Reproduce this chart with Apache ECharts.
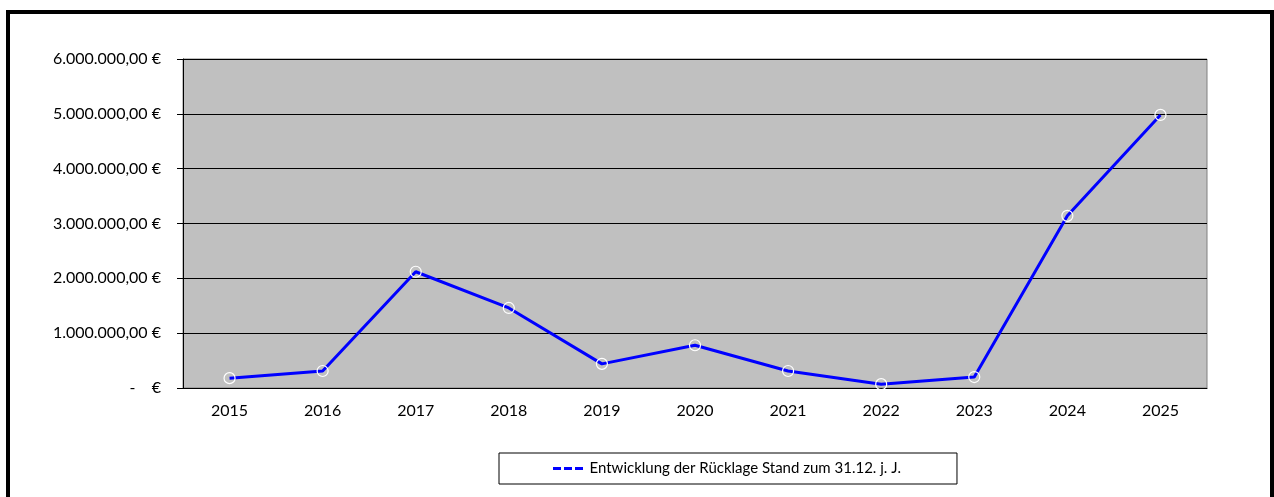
<!DOCTYPE html>
<html>
<head>
<meta charset="utf-8">
<script src="https://cdn.jsdelivr.net/npm/echarts@6/dist/echarts.min.js"></script>
<style>
  html, body { margin: 0; padding: 0; background: #fff; overflow: hidden; }
  #frame {
    position: absolute; left: 6px; top: 10px; width: 1260px; height: 500px;
    border: 4px solid #000; box-sizing: content-box;
  }
  #chart { position: absolute; left: 0; top: 0; width: 1274px; height: 497px; }
</style>
</head>
<body>
<div id="frame"></div>
<div id="chart"></div>
<script>
// Jahre
const years = ['2015', '2016', '2017', '2018', '2019', '2020', '2021', '2022', '2023', '2024', '2025']
// Rücklage Stand zum 31.12. (EUR)
const reserve = [180000, 310000, 2120000, 1460000, 440000, 780000, 310000, 70000, 200000, 3140000, 4980000]
const seriesName = 'Entwicklung der Rücklage Stand zum 31.12. j. J.'

const font = 'Lato'

function euro(v) {
  if (v === 0) return '-    €'
  const s = Math.round(v).toString().replace(/\B(?=(\d{3})+(?!\d))/g, '.')
  return s + ',00 €'
}

const chart = echarts.init(document.getElementById('chart'))
const option = {
  animation: false,
  textStyle: { fontFamily: font },
  grid: {
    left: 183, right: 67, top: 59, bottom: 109,
    show: true, backgroundColor: '#c0c0c0', borderColor: '#808080', borderWidth: 1
  },
  legend: {
    left: 499, top: 453,
    padding: [8, 56, 8, 54],
    borderColor: '#000', borderWidth: 1,
    icon: 'path://M0,0h8v3h-8z M11,0h8v3h-8z M22,0h8v3h-8z',
    itemWidth: 33, itemHeight: 3, itemGap: 0,
    itemStyle: { color: '#0000ff', borderWidth: 0 },
    textStyle: { fontFamily: font, fontSize: 15, color: '#000' },
    data: [seriesName]
  },
  xAxis: {
    type: 'category',
    data: years,
    boundaryGap: true,
    axisLine: { lineStyle: { color: '#000', width: 1 } },
    axisTick: { length: 6, lineStyle: { color: '#000' } },
    axisLabel: { color: '#000', fontSize: 16, margin: 15, fontFamily: font },
    splitLine: { show: false }
  },
  yAxis: {
    type: 'value',
    min: 0, max: 6000000, interval: 1000000,
    axisLine: { show: true, lineStyle: { color: '#000', width: 1 } },
    axisTick: { show: true, length: 6, lineStyle: { color: '#000' } },
    axisLabel: { color: '#000', fontSize: 16, margin: 22, fontFamily: font, formatter: euro },
    splitLine: { lineStyle: { color: '#000', width: 1 } }
  },
  series: [{
    name: seriesName,
    type: 'line',
    data: reserve,
    lineStyle: { color: '#0000ff', width: 3 },
    itemStyle: { color: 'rgba(0,0,0,0)', borderColor: '#ffffff', borderWidth: 1.2 },
    symbol: 'circle',
    symbolSize: 11
  }]
}
chart.setOption(option)
</script>
</body>
</html>
